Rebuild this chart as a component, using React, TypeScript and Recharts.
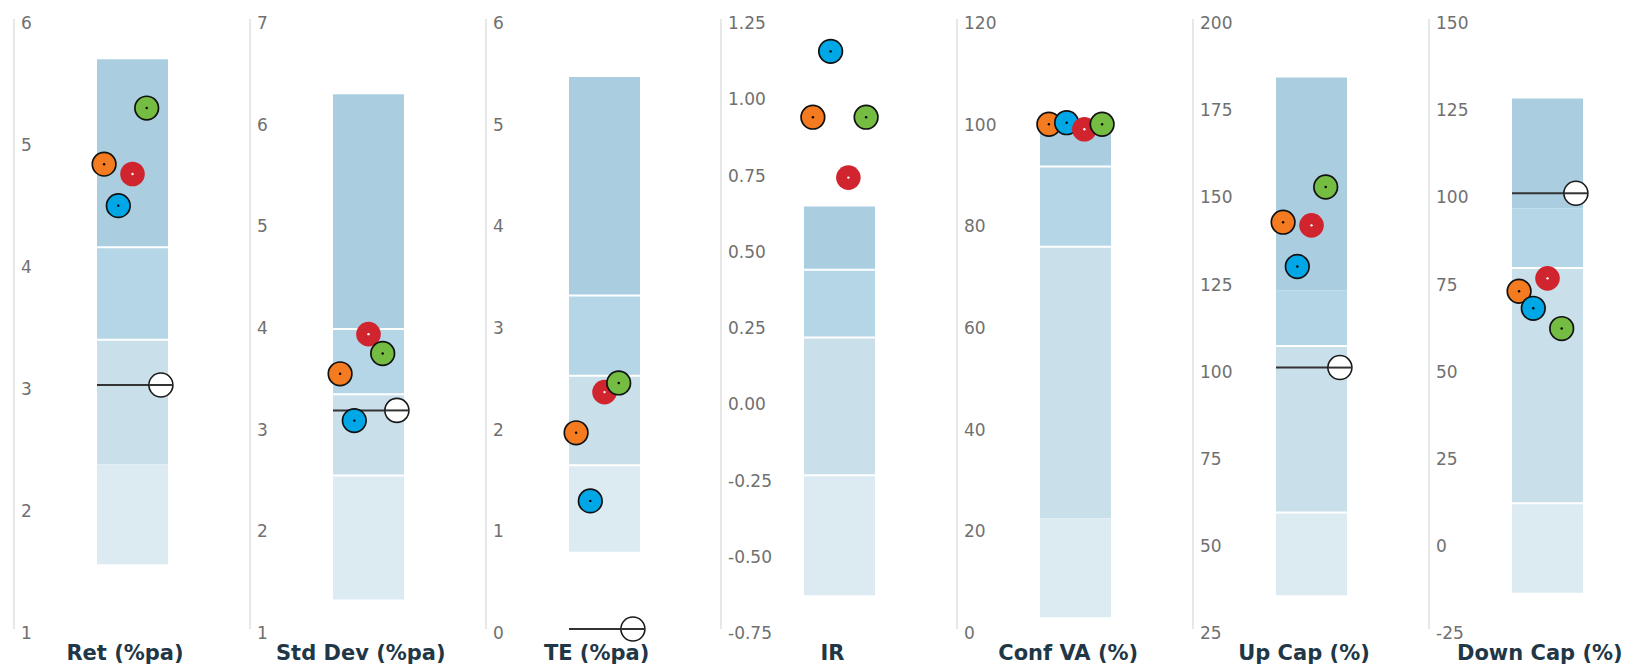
import React from 'react';
import { ComposedChart, XAxis, YAxis, Scatter, ReferenceArea, ReferenceLine } from 'recharts';

// ---------- data ----------
const panelTitles = ['Ret (%pa)', 'Std Dev (%pa)', 'TE (%pa)', 'IR', 'Conf VA (%)', 'Up Cap (%)', 'Down Cap (%)'];

const tickValues: number[][] = [
  [1, 2, 3, 4, 5, 6],
  [1, 2, 3, 4, 5, 6, 7],
  [0, 1, 2, 3, 4, 5, 6],
  [-0.75, -0.5, -0.25, 0, 0.25, 0.5, 0.75, 1, 1.25],
  [0, 20, 40, 60, 80, 100, 120],
  [25, 50, 75, 100, 125, 150, 175, 200],
  [-25, 0, 25, 50, 75, 100, 125, 150],
];
const tickDecimals = [0, 0, 0, 2, 0, 0, 0];

// peer-group ranges (top of range, upper quartile, median, lower quartile, bottom)
const rangeTop = [5.67, 6.26, 5.43, 0.635, 98.0, 183.2, 127.2];
const upperQuartile = [4.13, 3.95, 3.28, 0.428, 91.0, 122.2, 95.7];
const medianValue = [3.37, 3.31, 2.49, 0.206, 75.2, 106.2, 78.6];
const lowerQuartile = [2.35, 2.51, 1.61, -0.246, 21.8, 58.4, 11.1];
const rangeBottom = [1.53, 1.29, 0.76, -0.639, 2.3, 34.7, -14.6];
// white separators shown at [upperQuartile, median, lowerQuartile]
const separatorShown: boolean[][] = [
  [true, true, false],
  [true, true, true],
  [true, true, true],
  [true, true, true],
  [true, true, false],
  [false, true, true],
  [false, true, true],
];

const orangeValues = [4.81, 3.51, 1.93, 0.928, 99.3, 141.7, 71.9];
const blueValues = [4.47, 3.05, 1.26, 1.144, 99.6, 129.0, 67.0];
const redValues = [4.73, 3.9, 2.33, 0.73, 98.3, 140.8, 75.6];
const greenValues = [5.27, 3.71, 2.42, 0.928, 99.3, 151.8, 61.2];
const benchmarkValues: (number | null)[] = [3.0, 3.15, 0.0, null, null, 100, 100];

// ---------- style ----------
const bandColors = ['#aacee0', '#b5d6e6', '#c9e0eb', '#dcebf2'];
const seriesStyles = [
  { name: 'orange', values: orangeValues, fill: '#f47b20', outlined: true, center: '#000' },
  { name: 'blue', values: blueValues, fill: '#00a7e6', outlined: true, center: '#000' },
  { name: 'red', values: redValues, fill: '#d0252f', outlined: false, center: '#fff' },
  { name: 'green', values: greenValues, fill: '#74bc42', outlined: true, center: '#000' },
];

const PANEL_STEP = 235.8;
const CHART_W = 236;
const CHART_H = 666;
const MARGIN = { top: 19, right: 0, bottom: 37, left: 14 };
const BAR_OFFSET = 83;
const BAR_WIDTH = 71;
const PLOT_W = CHART_W - MARGIN.left - MARGIN.right;

const makeTick = (dec: number) => (props: any) => {
  const { x, y, payload } = props;
  return (
    <text
      x={x}
      y={y + 4}
      dy="0.36em"
      textAnchor="start"
      fill="#707070"
      fontSize={17}
      fontFamily="DejaVu Sans, Verdana, sans-serif"
    >
      {Number(payload.value).toFixed(dec)}
    </text>
  );
};

const makeDot = (fill: string, outlined: boolean, center: string) => (props: any) => {
  const { cx, cy } = props;
  if (cx == null || cy == null) return null;
  return (
    <g>
      <circle
        cx={cx}
        cy={cy}
        r={outlined ? 11.8 : 12.3}
        fill={fill}
        stroke={outlined ? '#111' : 'none'}
        strokeWidth={1.7}
      />
      <circle cx={cx} cy={cy} r={1.2} fill={center} />
    </g>
  );
};

const benchmarkShape = (props: any) => {
  const { cx, cy } = props;
  if (cx == null || cy == null) return null;
  return (
    <g>
      <circle cx={cx} cy={cy} r={12} fill="#fff" stroke="#1a1a1a" strokeWidth={1.6} />
      <line x1={cx - 12} x2={cx + 12} y1={cy} y2={cy} stroke="#333" strokeWidth={2} />
    </g>
  );
};

function Panel({ i }: { i: number }) {
  const ticks = tickValues[i];
  const bench = benchmarkValues[i];
  const slots = bench == null ? 4 : 5;
  const bounds = [rangeTop[i], upperQuartile[i], medianValue[i], lowerQuartile[i], rangeBottom[i]];
  const seps = [upperQuartile[i], medianValue[i], lowerQuartile[i]];
  return (
    <div style={{ position: 'absolute', left: i * PANEL_STEP, top: 0, width: CHART_W, height: CHART_H }}>
      <ComposedChart width={CHART_W} height={CHART_H} margin={MARGIN}>
        <XAxis
          type="number"
          dataKey="x"
          domain={[0, slots]}
          hide
          padding={{ left: BAR_OFFSET, right: PLOT_W - BAR_OFFSET - BAR_WIDTH }}
        />
        <YAxis
          type="number"
          dataKey="y"
          domain={[ticks[0], ticks[ticks.length - 1]]}
          ticks={ticks}
          interval={0}
          mirror
          width={40}
          tickSize={0}
          tickMargin={7}
          tickLine={false}
          axisLine={{ stroke: '#e8e8e8', strokeWidth: 2 }}
          tick={makeTick(tickDecimals[i])}
        />
        {bandColors.map((c, k) => (
          <ReferenceArea
            key={'band' + k}
            x1={0}
            x2={slots}
            y1={bounds[k + 1]}
            y2={bounds[k]}
            fill={c}
            fillOpacity={1}
            stroke="none"
          />
        ))}
        {seps.map((v, k) =>
          separatorShown[i][k] ? (
            <ReferenceLine
              key={'sep' + k}
              segment={[
                { x: 0, y: v },
                { x: slots, y: v },
              ]}
              stroke="#ffffff"
              strokeWidth={2}
            />
          ) : null
        )}
        {bench != null && (
          <ReferenceLine
            segment={[
              { x: 0, y: bench },
              { x: slots - 0.5, y: bench },
            ]}
            stroke="#333"
            strokeWidth={2}
          />
        )}
        {seriesStyles.map((s, k) => (
          <Scatter
            key={s.name}
            name={s.name}
            data={[{ x: k + 0.5, y: s.values[i] }]}
            dataKey="y"
            shape={makeDot(s.fill, s.outlined, s.center)}
            isAnimationActive={false}
          />
        ))}
        {bench != null && (
          <Scatter
            name="benchmark"
            data={[{ x: slots - 0.5, y: bench }]}
            dataKey="y"
            shape={benchmarkShape}
            isAnimationActive={false}
          />
        )}
      </ComposedChart>
      <div
        style={{
          position: 'absolute',
          left: MARGIN.left - 4,
          width: PLOT_W + 8,
          top: 643,
          lineHeight: '21px',
          textAlign: 'center',
          fontFamily: 'DejaVu Sans, Verdana, sans-serif',
          fontWeight: 'bold',
          fontSize: 21,
          color: '#1f3747',
          whiteSpace: 'nowrap',
        }}
      >
        {panelTitles[i]}
      </div>
    </div>
  );
}

export default function App() {
  return (
    <div style={{ position: 'absolute', left: 0, top: 0, width: 1629, height: 666, background: '#fff', overflow: 'hidden' }}>
      {panelTitles.map((t, i) => (
        <Panel key={t} i={i} />
      ))}
    </div>
  );
}
